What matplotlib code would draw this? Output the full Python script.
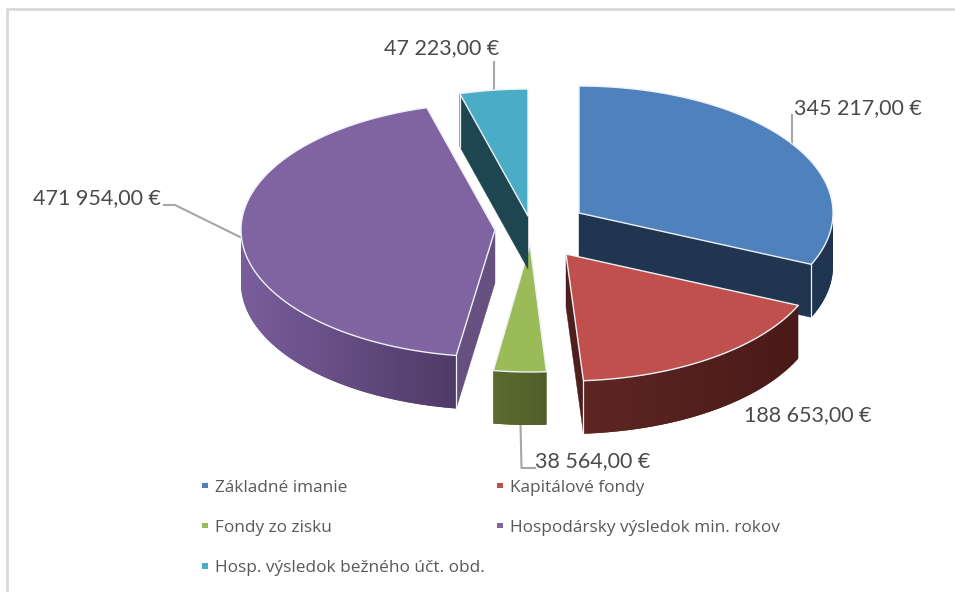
import numpy as np
import matplotlib
matplotlib.use("Agg")
import matplotlib.pyplot as plt
from matplotlib.patches import Polygon, Rectangle
from matplotlib.colors import to_rgb

categories = ["Základné imanie", "Kapitálové fondy", "Fondy zo zisku",
              "Hospodársky výsledok min. rokov", "Hosp. výsledok bežného účt. obd."]
values = [345217, 188653, 38564, 471954, 47223]
value_labels = ["345 217,00 €", "188 653,00 €", "38 564,00 €", "471 954,00 €", "47 223,00 €"]
top_colors = ["#4F81BD", "#C0504D", "#9BBB59", "#8064A2", "#4BACC6"]

# layout
CX, CY = 528, 230
RY, DEPTH = 127, 53
slice_rx = [254, 254, 240, 254, 254]
offsets = [(51, -17), (38, 24), (2, 15), (-33, 0), (0, -14)]
wall_left = ["#1F3550", "#5E2623", "#5A6C30", "#7A5E9C", "#1E4650"]
wall_right = ["#1F3550", "#4A1A18", "#4F5F2A", "#4E3A66", "#1E4650"]
face_colors = ["#1F3550", "#4F1F1D", "#4F5F2A", "#65507F", "#1E4650"]
EDGE = "#EEF1F5"

fig = plt.figure(figsize=(9.55, 5.92), dpi=100, facecolor="white")
ax = fig.add_axes([0, 0, 1, 1])
ax.axis("off")

# chart frame
FRAME = "#D9D9D9"
ax.plot([7, 7], [9, 592], color=FRAME, lw=2, solid_capstyle="butt")
ax.plot([6, 955], [9, 9], color=FRAME, lw=2, solid_capstyle="butt")

total = sum(values)
edges = np.concatenate([[0], np.cumsum(values)]) / total * 2 * np.pi


def rim(i, ax0, ay0, theta):
    return ax0 + slice_rx[i] * np.sin(theta), ay0 - RY * np.cos(theta)


def draw_slice(i):
    a0, a1 = edges[i], edges[i + 1]
    ox, oy = CX + offsets[i][0], CY + offsets[i][1]
    face = face_colors[i]
    base = 2 + i * 0.1
    # radial cut faces that look towards the viewer
    ends = {0: [a1], 1: [a1], 3: [a0], 4: [a0]}.get(i, [])
    for a in ends:
        x, y = rim(i, ox, oy, a)
        ax.add_patch(Polygon([(ox, oy), (x, y), (x, y + DEPTH), (ox, oy + DEPTH)],
                             closed=True, fc=face, ec=face, lw=0.3, zorder=base))
    # outer wall with a horizontal gradient, only the part facing the viewer
    lo, hi = max(a0, np.pi / 2), min(a1, 3 * np.pi / 2)
    if hi > lo:
        ts = np.linspace(lo, hi, 120)
        xs, ys = rim(i, ox, oy, ts)
        outline = np.vstack([np.column_stack([xs, ys]),
                             np.column_stack([xs[::-1], ys[::-1] + DEPTH])])
        xmin, xmax = xs.min(), xs.max()
        c0, c1 = np.array(to_rgb(wall_left[i])), np.array(to_rgb(wall_right[i]))
        grad = np.linspace(c0, c1, 256)[None, :, :]
        poly = Polygon(outline, closed=True, fc=tuple((c0 + c1) / 2), ec="none", zorder=base + 0.01)
        ax.add_patch(poly)
        im = ax.imshow(grad, extent=(xmin, xmax, ys.max() + DEPTH, ys.min()),
                       aspect="auto", zorder=base + 0.02, interpolation="bilinear")
        im.set_clip_path(poly)
    for a in ends:
        x, y = rim(i, ox, oy, a)
        ax.plot([x, x], [y, y + DEPTH], color=EDGE, lw=0.9, zorder=base + 0.03)
    # top
    ts = np.linspace(a0, a1, 120)
    xs, ys = rim(i, ox, oy, ts)
    pts = np.vstack([[ox, oy], np.column_stack([xs, ys])])
    ax.add_patch(Polygon(pts, closed=True, fc=top_colors[i], ec=EDGE, lw=1.0,
                         joinstyle="round", zorder=base + 0.05))


for i in [4, 0, 3, 1, 2]:
    draw_slice(i)

# leader lines
LEAD = "#A6A6A6"
ax.plot([791.5, 791.5], [115, 143], color=LEAD, lw=1.5, zorder=1)
ax.plot([520.5, 521.5, 535], [424, 468, 468], color=LEAD, lw=1.5, zorder=1)
ax.plot([164, 175, 242], [205, 205, 238], color=LEAD, lw=1.5, zorder=1)
ax.plot([494, 494], [91, 62], color=LEAD, lw=1.5, zorder=1)

# value labels
LAB = "#4A4A4A"
label_pos = [(794, 108), (744, 415), (535, 461), (33, 198), (384, 48)]
for (x, y), s in zip(label_pos, value_labels):
    ax.text(x, y, s, fontsize=15.5, family="Lato", color=LAB, ha="left", va="center", zorder=5)

# legend
legend_pos = [(202, 485.5), (497, 485.5), (202, 525.5), (497, 525.5), (202, 566)]
for (x, y), name, c in zip(legend_pos, categories, top_colors):
    ax.add_patch(Rectangle((x, y - 2.75), 5.5, 5.5, fc=c, ec="none", zorder=5))
    ax.text(x + 12.5, y + 6.5, name, fontsize=12.4, family="Open Sans", color="#595959",
            ha="left", va="baseline", zorder=5)

ax.set_xlim(0, 955)
ax.set_ylim(592, 0)
fig.savefig("out.png", dpi=100, facecolor="white")
